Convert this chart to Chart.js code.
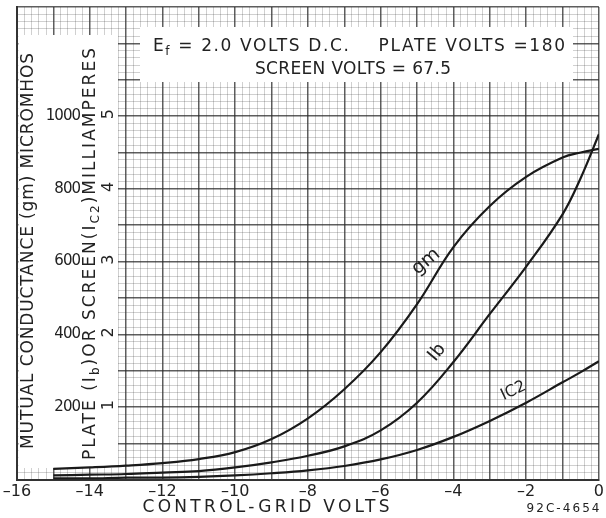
<!DOCTYPE html>
<html>
<head>
<meta charset="utf-8">
<script src="https://cdn.jsdelivr.net/npm/chart.js@4.4.1/dist/chart.umd.min.js"></script>
<style>
  html, body { margin: 0; padding: 0; background: #fff; }
  canvas { display: block; }
</style>
</head>
<body>
<canvas id="chart" width="606" height="518"></canvas>
<script>
// control-grid volts
const gridVolts = [-15, -14, -13, -12, -11, -10, -9, -8, -7, -6, -5, -4, -3, -2, -1, -0.5, 0];
// mutual conductance (micromhos)
const gmValues = [30, 34, 39, 46, 57, 76, 112, 169, 249, 351, 483, 640, 753, 833, 886, 900, 910];
// plate current Ib (mA)
const ibValues = [0.06, 0.07, 0.08, 0.10, 0.12, 0.17, 0.24, 0.33, 0.46, 0.68, 1.06, 1.62, 2.28, 2.93, 3.65, 4.15, 4.75];
// screen current Ic2 (mA)
const ic2Values = [0.02, 0.02, 0.03, 0.03, 0.04, 0.06, 0.09, 0.13, 0.19, 0.28, 0.41, 0.59, 0.81, 1.06, 1.34, 1.48, 1.63];

const xTickLabels = [-16, -14, -12, -10, -8, -6, -4, -2, 0];
const gmTickLabels = [200, 400, 600, 800, 1000];
const maTickLabels = [1, 2, 3, 4, 5];

// where the hand lettering sits next to the curves: [volts, value]
const curveLabels = [
    { text: 'gm', at: [-4.75, 600], axis: 'y', angle: -40, size: 19 },
    { text: 'Ib', at: [-4.45, 1.75], axis: 'ma', angle: -50, size: 18 },
    { text: 'IC2', at: [-2.35, 1.22], axis: 'ma', angle: -25, size: 16 }
];

const FONT = '"DejaVu Sans", sans-serif';
const INK = '#222';

function isWhole(v, step) {
    const r = v / step;
    return Math.abs(r - Math.round(r)) < 1e-6;
}

// spread a run of text (with optional subscripts) over a given width
function lettering(ctx, parts, cx, cy, width, angle) {
    ctx.save();
    ctx.translate(cx, cy);
    ctx.rotate(angle);
    ctx.textBaseline = 'middle';
    ctx.textAlign = 'left';
    ctx.fillStyle = INK;
    let natural = 0, count = 0;
    parts.forEach(p => {
        ctx.font = p.size + 'px ' + FONT;
        ctx.letterSpacing = '0px';
        p.w = ctx.measureText(p.text).width;
        natural += p.w;
        count += p.text.length;
    });
    if (!width) width = natural;
    const ls = count > 1 ? (width - natural) / (count - 1) : 0;
    let x = -width / 2;
    parts.forEach(p => {
        ctx.font = p.size + 'px ' + FONT;
        ctx.letterSpacing = ls + 'px';
        ctx.fillText(p.text, x, p.dy || 0);
        x += p.w + ls * p.text.length;
    });
    ctx.restore();
}

const paper = {
    id: 'paper',
    beforeDatasetsDraw(chart) {
        const { ctx, chartArea: a } = chart;
        ctx.save();
        ctx.fillStyle = '#fff';
        // blank strip for the axis lettering
        ctx.fillRect(a.left + 1.5, 35, 118 - a.left - 1.5, 468 - 35);
        // conditions box
        ctx.fillRect(140, 27, 433, 55);
        ctx.restore();
    },
    afterDraw(chart) {
        const { ctx } = chart;
        const y = chart.scales.y, ma = chart.scales.ma, x = chart.scales.x;

        // gm tick labels
        ctx.save();
        ctx.fillStyle = INK;
        ctx.font = '15px ' + FONT;
        ctx.letterSpacing = '-1px';
        ctx.textAlign = 'right';
        ctx.textBaseline = 'middle';
        gmTickLabels.forEach(v => ctx.fillText(String(v), 80, y.getPixelForValue(v)));
        ctx.restore();

        // mA tick labels, lettered sideways
        maTickLabels.forEach(v => {
            lettering(ctx, [{ text: String(v), size: 16 }], 109, ma.getPixelForValue(v) - 2, 0, -Math.PI / 2);
        });

        // axis titles
        lettering(ctx, [{ text: 'MUTUAL CONDUCTANCE (gm) MICROMHOS', size: 17 }], 29, 251, 396, -Math.PI / 2);
        lettering(ctx, [
            { text: 'PLATE (I', size: 17 },
            { text: 'b', size: 12, dy: 5 },
            { text: ')OR SCREEN(I', size: 17 },
            { text: 'C2', size: 12, dy: 5 },
            { text: ')MILLIAMPERES', size: 17 }
        ], 91, 254, 412, -Math.PI / 2);
        lettering(ctx, [{ text: 'CONTROL-GRID VOLTS', size: 17 }], 266, 508, 247, 0);
        lettering(ctx, [{ text: '92C-4654', size: 12 }], 563, 509, 73, 0);

        // conditions
        lettering(ctx, [
            { text: 'E', size: 17 },
            { text: 'f', size: 12, dy: 5 },
            { text: ' = 2.0 VOLTS D.C.    PLATE VOLTS =180', size: 17 }
        ], 359, 47, 412, 0);
        lettering(ctx, [{ text: 'SCREEN VOLTS = 67.5', size: 17 }], 353, 70, 196, 0);

        // curve names
        curveLabels.forEach(l => {
            const sc = chart.scales[l.axis];
            const px = x.getPixelForValue(l.at[0]);
            const py = sc.getPixelForValue(l.at[1]);
            lettering(ctx, [{ text: l.text, size: l.size }], px, py, 0, l.angle * Math.PI / 180);
        });
    }
};

function pairs(values) {
    return gridVolts.map((v, i) => ({ x: v, y: values[i] }));
}

const gridColor = step => ctx => {
    const v = ctx.tick ? ctx.tick.value : 0;
    return isWhole(v, step) ? 'rgba(40,40,40,0.75)' : 'rgba(60,60,60,0.24)';
};
const gridWidth = step => ctx => {
    const v = ctx.tick ? ctx.tick.value : 0;
    return isWhole(v, step) ? 1.5 : 1;
};

new Chart(document.getElementById('chart'), {
    type: 'line',
    data: {
        datasets: [
            { label: 'gm', data: pairs(gmValues), yAxisID: 'y' },
            { label: 'Ib', data: pairs(ibValues), yAxisID: 'ma' },
            { label: 'Ic2', data: pairs(ic2Values), yAxisID: 'ma' }
        ]
    },
    options: {
        responsive: false,
        animation: false,
        layout: { padding: { left: 17, top: 7, right: 5, bottom: 15 } },
        elements: {
            line: { borderColor: '#1a1a1a', borderWidth: 2.2, tension: 0.4, fill: false },
            point: { radius: 0 }
        },
        plugins: {
            legend: { display: false },
            tooltip: { enabled: false }
        },
        scales: {
            x: {
                type: 'linear',
                min: -16,
                max: 0,
                ticks: {
                    stepSize: 0.2,
                    autoSkip: false,
                    maxRotation: 0,
                    minRotation: 0,
                    padding: 2,
                    color: INK,
                    font: { family: FONT, size: 16 },
                    callback: v => {
                        const r = Math.round(v * 10) / 10;
                        if (!xTickLabels.includes(r)) return '';
                        return r < 0 ? '\u2013' + (-r) : String(r);
                    }
                },
                grid: { color: gridColor(1), lineWidth: gridWidth(1), drawTicks: false },
                border: { color: '#333', width: 2 }
            },
            y: {
                type: 'linear',
                position: 'left',
                min: 0,
                max: 1300,
                ticks: { stepSize: 20, display: false },
                grid: { color: gridColor(100), lineWidth: gridWidth(100), drawTicks: false },
                border: { color: '#333', width: 2 }
            },
            ma: {
                type: 'linear',
                display: false,
                min: 0,
                max: 6.5
            }
        }
    },
    plugins: [paper]
});
</script>
</body>
</html>
